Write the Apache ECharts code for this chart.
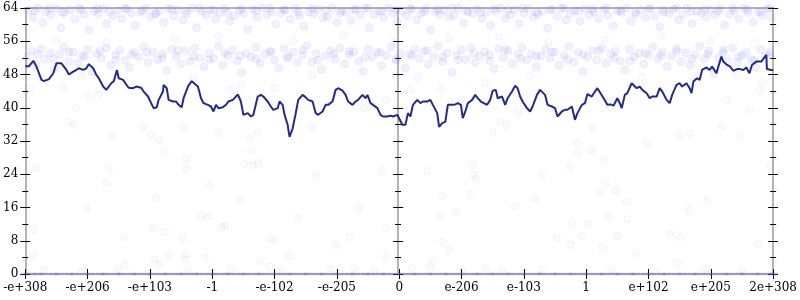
<!DOCTYPE html>
<html><head><meta charset="utf-8">
<script src="https://cdn.jsdelivr.net/npm/echarts@6/dist/echarts.min.js"></script>
<style>html,body{margin:0;padding:0;background:#fff}#c{width:800px;height:300px}</style>
</head><body><div id="c"></div><script>
const tickLabels = ['-e+308','-e+206','-e+103','-1','-e-102','-e-205','0','e-206','e-103','1','e+102','e+205','2e+308'];
const yTicks = [0,8,16,24,32,40,48,56,64];

const lineX = [0,0.06,0.13,0.18,0.26,0.3,0.38,0.45,0.5,0.58,0.61,0.66,0.7,0.77,0.82,0.86,0.93,0.98,1.02,1.09,1.14,1.18,1.25,1.3,1.33,1.38,1.42,1.47,1.5,1.57,1.62,1.66,1.73,1.78,1.81,1.86,1.9,1.97,2.02,2.06,2.11,2.14,2.21,2.22,2.27,2.3,2.37,2.42,2.46,2.51,2.54,2.61,2.67,2.7,2.77,2.82,2.86,2.93,2.98,3.02,3.06,3.1,3.17,3.22,3.26,3.33,3.36,3.41,3.46,3.5,3.57,3.62,3.66,3.73,3.78,3.82,3.89,3.94,3.98,4.05,4.08,4.13,4.16,4.21,4.24,4.29,4.34,4.38,4.45,4.5,4.54,4.61,4.66,4.7,4.77,4.82,4.86,4.93,4.98,5.02,5.09,5.14,5.18,5.25,5.3,5.34,5.41,5.46,5.49,5.54,5.58,5.65,5.7,5.74,5.81,5.86,5.9,5.97,6,6.05,6.1,6.14,6.18,6.22,6.29,6.34,6.38,6.45,6.5,6.54,6.61,6.64,6.69,6.74,6.78,6.85,6.9,6.94,6.99,7.02,7.07,7.1,7.17,7.22,7.26,7.31,7.34,7.41,7.46,7.5,7.55,7.58,7.65,7.7,7.74,7.81,7.86,7.9,7.94,7.98,8.05,8.1,8.14,8.21,8.26,8.29,8.34,8.38,8.45,8.5,8.54,8.61,8.66,8.7,8.77,8.82,8.86,8.93,8.98,9.02,9.09,9.14,9.18,9.23,9.28,9.34,9.39,9.44,9.5,9.54,9.57,9.62,9.66,9.73,9.76,9.81,9.86,9.9,9.97,10.02,10.06,10.13,10.18,10.22,10.29,10.34,10.38,10.45,10.5,10.54,10.61,10.66,10.69,10.72,10.78,10.82,10.86,10.93,10.98,11.02,11.09,11.12,11.17,11.2,11.26,11.31,11.36,11.42,11.47,11.52,11.57,11.62,11.66,11.73,11.76,11.81,11.84,11.89,11.9,11.97,12];
const lineY = [50,50,51.3,49.9,46.7,46.4,46.9,48.3,50.7,50.7,50.3,49.1,48,48.7,49.1,49.5,49.1,49.5,50.5,49.5,47.9,47.1,45.1,44.3,44.1,45.9,46.4,49.1,47.1,46.7,45.6,44.8,44.7,45.1,45.5,44.8,43.9,42.7,41.1,39.9,40.1,41.9,43.9,45.5,44.7,41.9,41.5,41.5,40.7,40.1,42.3,45.1,46.4,46.6,45.1,42.3,41.1,40.7,40.3,39.1,40.7,39.9,40.1,40.7,41.5,41.9,42.3,43.2,41.5,38.3,38.7,37.9,38.3,42.7,43.1,42.7,41.5,40.3,39.5,39.9,41.5,40.7,38.3,35.9,33,35,38.7,41.9,43.1,42.5,41.9,41.5,38.7,38.3,39.1,40.7,40.7,41.5,44.3,44.7,44.1,43.1,41.5,40.7,41.5,41.9,43.1,42.3,43.1,41.1,40.7,39.9,38.3,37.9,37.9,38.1,37.9,38.3,38.7,35.9,35.9,38.7,37.9,40.7,41.9,41.1,41.5,41.5,41.9,40.7,38.7,35.4,36.3,36.6,40.7,40.7,40.8,41.1,40.7,37.5,39.5,41.1,41.9,43.1,42.3,41.5,41.9,40.7,41.9,44.1,44.3,42.3,42.7,40.7,42.3,43.9,45.3,44.7,42.7,41.5,39.9,39.1,40.3,43.1,44.3,44.7,43.1,40.7,40.3,39.9,37.9,39.1,39.5,39.5,40.3,37.1,38.7,40.7,41.1,43.3,42.7,43.9,44.7,43.5,42.3,40.7,40.8,40.5,42.3,41.1,39.9,43.1,43.5,45.9,46.3,44.7,45.1,44.3,43.5,42.3,42.7,42.7,44.7,43.9,41.9,41.1,43.1,45.5,45.9,45.1,45.9,44.7,43.5,46.3,47.1,46.7,49.1,49.7,49.1,49.9,48.3,49.9,52.3,51.1,50.3,49.9,48.9,49.3,49.3,49.1,49.7,48.3,50.3,51.1,51.5,51.1,51.5,52.7,49.3,49.1,49.1];

const topBand = [[0.05,63.5],[0.12,61.8],[0.2,64],[0.28,60.6],[0.33,63.1],[0.41,62.4],[0.5,63.8],[0.57,59.2],[0.63,62.9],[0.72,63.6],[0.8,61.3],[0.86,64],[0.95,62.5],[1.02,58.7],[1.1,63.2],[1.17,62.6],[1.25,63.9],[1.31,60.2],[1.4,62.1],[1.48,63.4],[1.55,61.5],[1.62,63.7],[1.7,62.8],[1.77,59.8],[1.85,63],[1.93,64],[2,61.9],[2.08,62.5],[2.15,63.3],[2.22,60.6],[2.3,63.8],[2.38,62],[2.45,63.5],[2.53,61.1],[2.6,62.6],[2.68,64],[2.75,59.3],[2.83,63.2],[2.9,62.3],[2.97,63.6],[3.05,61.4],[3.12,62.9],[3.2,63.9],[3.28,60.9],[3.35,62.1],[3.43,63.4],[3.5,62.7],[3.57,58.9],[3.65,63.7],[3.72,61.8],[3.8,64],[3.88,62.4],[3.95,63.1],[4.02,60.1],[4.1,62.8],[4.18,63.5],[4.25,61.3],[4.33,63.9],[4.4,62.2],[4.47,59.6],[4.55,63],[4.63,62.6],[4.7,63.8],[4.78,61.6],[4.85,62],[4.93,64],[5,60.5],[5.08,63.3],[5.15,62.9],[5.23,61],[5.3,63.6],[5.38,62.3],[5.45,63.9],[5.52,59.3],[5.6,62.5],[5.68,63.2],[5.75,61.7],[5.83,64],[5.9,62.8],[5.97,60.7],[6.05,63.4],[6.12,62.1],[6.2,63.7],[6.28,61.2],[6.35,62.7],[6.43,63.9],[6.5,58.7],[6.58,63.1],[6.65,62.4],[6.72,63.5],[6.8,61.9],[6.88,62.2],[6.95,64],[7.03,60.4],[7.1,63],[7.18,62.6],[7.25,63.8],[7.33,61.4],[7.4,62.9],[7.47,59.8],[7.55,63.3],[7.63,64],[7.7,61.6],[7.78,62.3],[7.85,63.6],[7.93,60.2],[8,62.8],[8.08,63.9],[8.15,61.8],[8.22,62.5],[8.3,63.2],[8.38,59.1],[8.45,63.7],[8.53,62],[8.6,64],[8.68,61.1],[8.75,62.7],[8.82,63.4],[8.9,60.9],[8.98,63.8],[9.05,62.4],[9.12,63.1],[9.2,61.5],[9.28,63.6],[9.35,62.2],[9.43,59.7],[9.5,63.3],[9.57,62.9],[9.65,64],[9.72,60.8],[9.8,62.6],[9.88,63.5],[9.95,61.7],[10.03,63.9],[10.1,62.1],[10.18,59.4],[10.25,63],[10.33,62.7],[10.4,63.7],[10.48,61.2],[10.55,62.4],[10.62,64],[10.7,60.3],[10.78,63.2],[10.85,62.8],[10.93,61.9],[11,63.6],[11.07,62.3],[11.15,63.9],[11.22,59.9],[11.3,62.5],[11.38,63.4],[11.45,61.4],[11.53,64],[11.6,62.9],[11.68,60.6],[11.75,63.1],[11.83,62.2],[11.9,63.8],[11.97,61.6],
[0.15,63.3],[0.38,63.9],[0.6,62.9],[0.9,63.6],[1.15,63.8],[1.35,63.1],[1.6,64],[1.88,63.4],[2.1,62.8],[2.35,63.7],[2.58,63.2],[2.8,64],[3.02,63.5],[3.25,62.9],[3.48,63.8],[3.7,63.3],[3.92,64],[4.15,63.6],[4.38,63],[4.6,63.9],[4.82,63.4],[5.05,62.8],[5.28,63.7],[5.5,64],[5.72,63.2],[5.95,63.6],[6.18,63.9],[6.4,63.1],[6.62,63.7],[6.85,64],[7.08,63.4],[7.3,62.9],[7.52,63.8],[7.75,63.5],[7.98,64],[8.2,63],[8.42,63.6],[8.65,63.9],[8.88,63.2],[9.1,63.7],[9.32,64],[9.55,63.4],[9.78,62.9],[10,63.8],[10.22,63.5],[10.45,64],[10.68,63.1],[10.9,63.7],[11.12,63.3],[11.35,64],[11.58,63.6],[11.8,63],[11.95,63.9]];

const midBand = [[0.03,52.1],[0.1,53.6],[0.18,50.4],[0.25,54.2],[0.31,51.7],[0.4,53.1],[0.47,49.3],[0.55,52.8],[0.62,54.6],[0.7,51.2],[0.77,53.4],[0.85,50.8],[0.92,52.5],[1,54],[1.07,48.6],[1.15,53],[1.22,51.9],[1.3,54.4],[1.37,50.2],[1.45,52.7],[1.52,53.8],[1.6,51.4],[1.67,49.7],[1.75,53.3],[1.82,52.2],[1.9,54.7],[1.97,50.9],[2.05,53.5],[2.12,51.6],[2.2,52.9],[2.27,48.9],[2.35,54.1],[2.42,52.4],[2.5,50.6],[2.57,53.7],[2.65,51.1],[2.72,54.3],[2.8,52],[2.87,49.9],[2.95,53.2],[3.02,51.8],[3.1,54.8],[3.17,50.3],[3.25,52.6],[3.32,53.9],[3.4,51.3],[3.47,48.4],[3.55,53.1],[3.62,52.3],[3.7,54.5],[3.77,50.7],[3.85,52.9],[3.92,53.6],[4,51.5],[4.07,49.5],[4.15,54.2],[4.22,52.1],[4.3,53.4],[4.37,50.9],[4.45,52.7],[4.52,54.9],[4.6,51],[4.67,53],[4.75,49.2],[4.82,52.5],[4.9,53.8],[4.97,51.7],[5.05,54.3],[5.12,50.5],[5.2,52.8],[5.27,53.5],[5.35,51.2],[5.42,48.8],[5.5,54],[5.57,52.2],[5.65,53.3],[5.72,50.1],[5.8,52.6],[5.87,54.6],[5.95,51.4],[6.02,53.1],[6.1,49.6],[6.17,52.9],[6.25,54.1],[6.32,51.8],[6.4,53.6],[6.47,50.4],[6.55,52.3],[6.62,54.8],[6.7,51.1],[6.77,53.2],[6.85,48.5],[6.92,52.7],[7,53.9],[7.07,51.6],[7.15,54.4],[7.22,50.8],[7.3,52.4],[7.37,53.5],[7.45,51.3],[7.52,49.4],[7.6,54.2],[7.67,52],[7.75,53.7],[7.82,50.6],[7.9,52.8],[7.97,54.5],[8.05,51.5],[8.12,53],[8.2,49.8],[8.27,52.5],[8.35,54],[8.42,51.9],[8.5,53.4],[8.57,50.2],[8.65,52.6],[8.72,54.7],[8.8,51],[8.87,53.3],[8.95,48.7],[9.02,52.2],[9.1,53.8],[9.17,51.4],[9.25,54.3],[9.32,50.7],[9.4,52.9],[9.47,53.6],[9.55,51.2],[9.62,49.1],[9.7,54.1],[9.77,52.3],[9.85,53.1],[9.92,50.5],[10,52.7],[10.07,54.6],[10.15,51.7],[10.22,53.5],[10.3,49.9],[10.37,52.4],[10.45,54.2],[10.52,51.1],[10.6,53.2],[10.67,50.3],[10.75,52.8],[10.82,54.8],[10.9,51.8],[10.97,53.7],[11.05,48.3],[11.12,52.1],[11.2,53.9],[11.27,51.3],[11.35,54.4],[11.42,50.9],[11.5,52.6],[11.57,53.3],[11.65,51.6],[11.72,49.6],[11.8,54],[11.87,52.5],[11.95,53.5],
[0.2,52.9],[0.45,51.8],[0.7,53.5],[0.95,52.3],[1.2,53.7],[1.45,51.5],[1.7,52.8],[1.95,53.3],[2.2,51.9],[2.45,53.8],[2.7,52.4],[2.95,51.6],[3.2,53.2],[3.45,52.6],[3.7,51.8],[3.95,53.5],[4.2,52.2],[4.45,53.9],[4.7,51.4],[4.95,52.9],[5.2,53.6],[5.45,52.1],[5.7,53.3],[5.95,51.7],[6.2,52.6],[6.45,53.8],[6.7,52.2],[6.95,51.5],[7.2,53.1],[7.45,52.7],[7.7,53.9],[7.95,51.9],[8.2,52.4],[8.45,53.4],[8.7,51.6],[8.95,52.8],[9.2,53.7],[9.45,52],[9.7,51.3],[9.95,53.2],[10.2,52.5],[10.45,53.6],[10.7,51.8],[10.95,52.9],[11.2,53.3],[11.45,52.2],[11.7,51.4],[11.95,52.7]];

const sparsePts = [[0.18,25.5],[0.13,10.6],[0.13,4.6],[1.34,25.3],[1.3,21.9],[0.99,15.9],[1.58,8.9],[1.6,2.2],[2.24,29.1],[2.59,27.7],[2.58,25.3],[2.1,18.3],[2.05,11.1],[2.24,10.1],[2.53,8.7],[2.3,4.6],[2.08,3.4],[2.15,2.2],[2.58,4.8],[2.56,3.6],[2.96,21.4],[2.83,14],[2.93,13.7],[3.15,11.3],[3.2,11.5],[2.88,4.1],[3.46,17.8],[3.52,26.5],[3.65,26.2],[3.74,26.7],[3.62,29.8],[3.76,3.1],[3.92,8.4],[4,8.2],[3.92,1.9],[4.37,13.5],[4.24,4.3],[4.66,23.8],[4.98,7],[5.34,15.9],[5.2,8.9],[5.72,24.8],[5.79,11.1],[5.8,4.1],[5.28,1.4],
[6.45,24.8],[7.18,26.2],[7.2,23.8],[7.23,22.9],[7.15,19.2],[6.7,18.8],[6.67,14],[6.91,14.9],[6.7,7.7],[6.8,5.8],[6.53,3.1],[6.5,1.7],[7.86,16.4],[8.18,18.3],[8.3,24],[8.74,25.7],[8.86,29.1],[9.09,29.8],[9.28,27.2],[9.31,21.7],[9.22,19.5],[9.47,20.2],[9.65,17.3],[9.36,13.7],[9.66,13.2],[8.77,12.3],[9.04,12],[8.93,9.1],[8.53,8.7],[8.75,7],[9.26,6.5],[9.5,9.1],[9.79,5],[10.35,9.6],[10.51,8.7],[10.64,15.4],[10.94,17.6],[10.46,2.6],[11.76,7.2],[11.95,26],[7.66,0.7],
[0.07,44.7],[0.6,44.8],[0.82,39.9],[0.7,36.6],[0.77,35.9],[1.38,33.2],[1.17,43.1],[1.01,42.8],[1.89,35.4],[2.02,33.4],[2.15,32.2],[2.53,35.4],[3.1,33.9],[3.3,44.3],[3.46,45.5],[3.72,33.9],[3.59,32.7],[3.99,44.7],[4.6,35.4],[5.43,39.9],[5,43.6],[5.8,41.9],[5.94,47.9],[6.18,44.3],[6.66,44.3],[6.98,39.9],[7.62,36.6],[7.72,35.9],[7.5,33.9],[7.38,46],[7.9,38.7],[8.85,31.5],[9.1,35.1],[9.43,41.9],[9.97,31.5],[10.5,33.4],[10.66,33.9],[11.18,35.4],[11.26,41.9],[11.46,33.4],[11.62,39.5],[11.78,44.3],[11.83,46.2],
[0.5,56.3],[1.3,55.8],[2.4,56.6],[3.1,57.2],[4.3,56],[5.1,57.5],[5.9,55.9],[6.8,56.8],[7.6,57.1],[8.4,55.7],[9.3,56.4],[10.2,57.3],[11,56.1],[11.7,55.6],[0.9,47.5],[2.7,47.2],[4.6,47.8],[6.3,47.4],[8.1,47.6],[9.9,47.3],[11.4,47.9],
[0.3,0.9],[0.9,0.6],[1.5,1.2],[2.6,0.8],[3.3,1.1],[4.1,0.7],[4.9,1.3],[5.6,0.9],[6.2,1.4],[7.0,0.8],[7.4,1.2],[8.3,0.9],[9.4,1.1],[10.1,0.7],[10.9,1.2],[11.5,0.9]];

const zeroX = [0,0.1,0.2,0.3,0.45,0.55,0.7,0.8,0.95,1.05,1.2,1.3,1.45,1.55,1.7,1.8,1.95,2.05,2.2,2.3,2.45,2.55,2.7,2.8,2.95,3.05,3.2,3.3,3.45,3.55,3.7,3.8,3.95,4.05,4.2,4.3,4.45,4.55,4.7,4.8,4.95,5.05,5.2,5.3,5.45,5.55,5.7,5.8,5.95,6.05,6.2,6.3,6.45,6.55,6.7,6.8,6.95,7.05,7.2,7.3,7.45,7.55,7.7,7.8,7.95,8.05,8.2,8.3,8.45,8.55,8.7,8.8,8.95,9.05,9.2,9.3,9.45,9.55,9.7,9.8,9.95,10.05,10.2,10.3,10.45,10.55,10.7,10.8,10.95,11.05,11.2,11.3,11.45,11.55,11.7,11.8,11.95,12];

const FONT = 'DejaVu Serif';
const AXC = '#b4b4b4';

function yAx(pos, offset, inside, labels) {
  return {
    type: 'value', min: 0, max: 64, interval: 8, position: pos, offset: offset,
    axisLine: { show: true, onZero: false, lineStyle: { color: AXC, width: 2 } },
    axisTick: { show: true, inside: inside, length: 5, lineStyle: { color: '#000', width: 1 } },
    minorTick: { show: true, splitNumber: 2, length: 3, lineStyle: { color: '#000', width: 1 } },
    axisLabel: { show: labels, margin: 7, color: '#000', fontFamily: FONT, fontSize: 12,
      formatter: v => yTicks.indexOf(v) >= 0 ? String(v) : '' },
    splitLine: { show: false }, minorSplitLine: { show: false }
  };
}
function xAx(pos, inside, labels, ticks) {
  return {
    type: 'value', min: 0, max: 12, interval: 1, position: pos,
    axisLine: { show: true, onZero: false, lineStyle: { color: AXC, width: 2 } },
    axisTick: { show: ticks, inside: inside, length: 5, lineStyle: { color: '#000', width: 1 } },
    axisLabel: { show: labels, margin: 8, color: '#000', fontFamily: FONT, fontSize: 12,
      showMinLabel: true, showMaxLabel: true,
      formatter: v => tickLabels[Math.round(v)] || '' },
    splitLine: { show: false }
  };
}

const chart = echarts.init(document.getElementById('c'), null, { renderer: 'canvas' });
chart.setOption({
  animation: false,
  backgroundColor: '#fff',
  grid: { left: 24, right: 26, top: 8, bottom: 26, containLabel: false },
  xAxis: [ xAx('bottom', false, true, true), xAx('bottom', true, false, true), xAx('top', false, false, false) ],
  yAxis: [ yAx('left', 0, false, true), yAx('left', 0, true, false),
           yAx('right', 0, false, false), yAx('right', 0, true, false),
           yAx('right', -375, false, false), yAx('right', -375, true, false) ],
  series: [
    { type: 'scatter', symbol: 'circle', symbolSize: 8, z: 1,
      itemStyle: { color: 'rgba(100,100,255,0.12)', borderColor: 'rgba(90,90,255,0.08)', borderWidth: 1 },
      data: topBand.concat(midBand) },
    { type: 'scatter', symbol: 'circle', symbolSize: 7, z: 1,
      itemStyle: { color: 'rgba(120,120,255,0.05)', borderColor: 'rgba(100,100,255,0.08)', borderWidth: 1 },
      data: sparsePts },
    { type: 'scatter', symbol: 'rect', symbolSize: [9, 2.5], z: 3,
      itemStyle: { color: 'rgba(90,90,215,0.4)' },
      data: zeroX.map(x => [x, 0]) },
    { type: 'line', showSymbol: false, symbol: 'none', z: 5,
      lineStyle: { color: '#232a8e', width: 2 },
      data: lineX.map((x, i) => [x, lineY[i]]) }
  ]
});
</script></body></html>
